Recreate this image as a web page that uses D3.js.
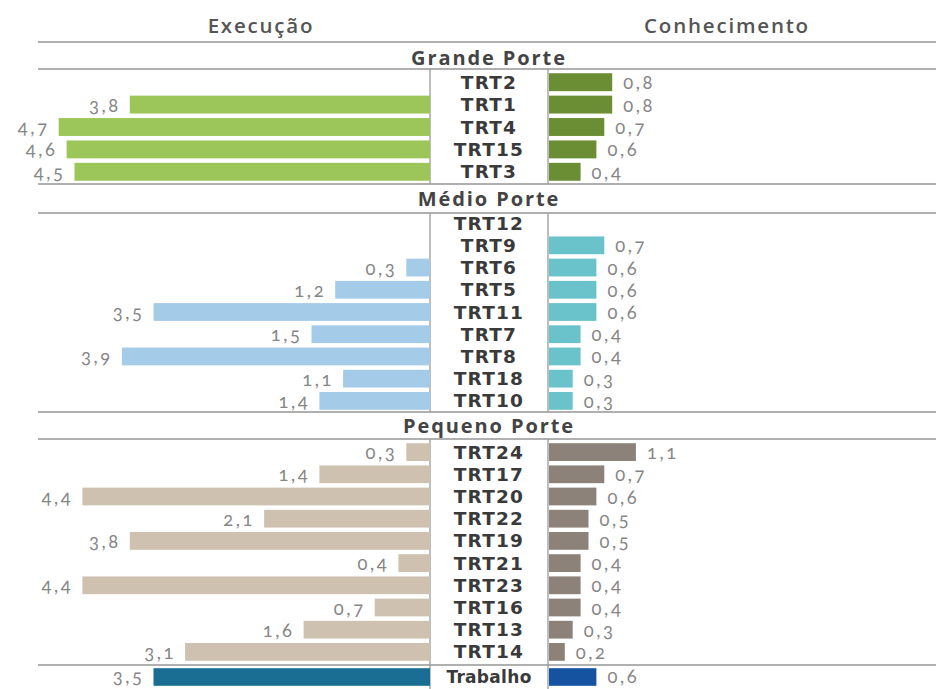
<!DOCTYPE html>
<html>
<head>
<meta charset="utf-8">
<script src="https://cdn.jsdelivr.net/npm/d3@7"></script>
<style>
  html, body { margin: 0; padding: 0; background: #fff; }
  svg { display: block; }
  text { font-family: "Open Sans", "DejaVu Sans", sans-serif; }
  .num { font-family: Lato, "Open Sans", sans-serif; font-variant-numeric: oldstyle-nums; font-feature-settings: "onum" 1; }
  .lab { font-family: "DejaVu Sans", sans-serif; }
</style>
</head>
<body>
<svg id="chart" width="936" height="689"></svg>
<script>
// Column headers
const columnTitles = ["Execução", "Conhecimento"];

// Grande Porte
const grandeLabels = ["TRT2", "TRT1", "TRT4", "TRT15", "TRT3"];
const grandeExecucao = [null, 3.8, 4.7, 4.6, 4.5];
const grandeConhecimento = [0.8, 0.8, 0.7, 0.6, 0.4];

// Médio Porte
const medioLabels = ["TRT12", "TRT9", "TRT6", "TRT5", "TRT11", "TRT7", "TRT8", "TRT18", "TRT10"];
const medioExecucao = [null, null, 0.3, 1.2, 3.5, 1.5, 3.9, 1.1, 1.4];
const medioConhecimento = [null, 0.7, 0.6, 0.6, 0.6, 0.4, 0.4, 0.3, 0.3];

// Pequeno Porte
const pequenoLabels = ["TRT24", "TRT17", "TRT20", "TRT22", "TRT19", "TRT21", "TRT23", "TRT16", "TRT13", "TRT14"];
const pequenoExecucao = [0.3, 1.4, 4.4, 2.1, 3.8, 0.4, 4.4, 0.7, 1.6, 3.1];
const pequenoConhecimento = [1.1, 0.7, 0.6, 0.5, 0.5, 0.4, 0.4, 0.4, 0.3, 0.2];

// Justiça do Trabalho (total)
const totalLabels = ["Trabalho"];
const totalExecucao = [3.5];
const totalConhecimento = [0.6];

const sectionTitles = ["Grande Porte", "Médio Porte", "Pequeno Porte"];

const svg = d3.select("#chart");
const W = 936;

// layout
const axisL = 430, axisR = 548;
const labelCenter = 489;
const pxPerUnit = 79;
const xLeft = d3.scaleLinear().domain([0, 5]).range([axisL, axisL - 5 * pxPerUnit]);
const xRight = d3.scaleLinear().domain([0, 5]).range([axisR + 1, axisR + 1 + 5 * pxPerUnit]);
const fmt = v => d3.format(".1f")(v).replace(".", ",");

const sections = [
  { title: sectionTitles[0], titleY: 57, top: 69, bottom: 184, range: [71, 183],
    labels: grandeLabels, exec: grandeExecucao, conh: grandeConhecimento,
    colL: "#9cc65a", colR: "#6b8e35" },
  { title: sectionTitles[1], titleY: 198, top: 213, bottom: 412, range: [212, 412],
    labels: medioLabels, exec: medioExecucao, conh: medioConhecimento,
    colL: "#a4cce9", colR: "#6ac2ca" },
  { title: sectionTitles[2], titleY: 425, top: 439, bottom: 665, range: [441, 663],
    labels: pequenoLabels, exec: pequenoExecucao, conh: pequenoConhecimento,
    colL: "#cfc1b0", colR: "#8c8279" },
  { title: null, top: 665, bottom: 689, range: [666, 688],
    labels: totalLabels, exec: totalExecucao, conh: totalConhecimento,
    colL: "#1a6e94", colR: "#1552a0", total: true }
];

// column headers
[[261, columnTitles[0]], [727, columnTitles[1]]].forEach(([x, t]) => {
  svg.append("text").attr("x", x).attr("y", 25).attr("text-anchor", "middle")
    .attr("dominant-baseline", "central").attr("font-size", 20.5).attr("font-weight", 600)
    .attr("fill", "#555").attr("letter-spacing", 1.8).text(t);
});

// horizontal rules
const rules = [42, 69, 184, 213, 412, 439, 665];
svg.selectAll("line.rule").data(rules).join("line").attr("class", "rule")
  .attr("x1", 38).attr("x2", W).attr("y1", d => d).attr("y2", d => d)
  .attr("stroke", "#b0b0b0").attr("stroke-width", 2);

sections.forEach(s => {
  const y = d3.scaleBand().domain(s.labels).range(s.range).paddingInner(0.2).paddingOuter(0.1);
  const g = svg.append("g");
  const cy = d => y(d.lab) + y.bandwidth() / 2 - (s.total ? 1 : 0);

  if (s.title) {
    g.append("text").attr("x", labelCenter).attr("y", s.titleY).attr("text-anchor", "middle")
      .attr("dominant-baseline", "central").attr("font-size", 20).attr("font-weight", 700)
      .attr("fill", "#444").attr("letter-spacing", 1.9).text(s.title);
  }

  // column separators
  [axisL, axisR].forEach(x => {
    g.append("line").attr("x1", x).attr("x2", x).attr("y1", s.top).attr("y2", s.bottom)
      .attr("stroke", "#9a9a9a").attr("stroke-width", 1.3);
  });

  const rows = s.labels.map((lab, i) => ({ lab, e: s.exec[i], c: s.conh[i] }));

  // execução bars (left)
  g.selectAll("rect.e").data(rows.filter(d => d.e != null)).join("rect").attr("class", "e")
    .attr("x", d => xLeft(d.e)).attr("width", d => xLeft(0) - xLeft(d.e))
    .attr("y", d => y(d.lab)).attr("height", y.bandwidth()).attr("fill", s.colL);
  g.selectAll("text.e").data(rows.filter(d => d.e != null)).join("text").attr("class", "e num")
    .attr("x", d => xLeft(d.e) - 9).attr("y", cy)
    .attr("text-anchor", "end").attr("dominant-baseline", "central")
    .attr("font-size", 18.4).attr("fill", "#868686").attr("letter-spacing", 2.6).text(d => fmt(d.e));

  // conhecimento bars (right)
  g.selectAll("rect.c").data(rows.filter(d => d.c != null)).join("rect").attr("class", "c")
    .attr("x", xRight(0)).attr("width", d => xRight(d.c) - xRight(0))
    .attr("y", d => y(d.lab)).attr("height", y.bandwidth()).attr("fill", s.colR);
  g.selectAll("text.c").data(rows.filter(d => d.c != null)).join("text").attr("class", "c num")
    .attr("x", d => xRight(d.c) + 11).attr("y", cy)
    .attr("text-anchor", "start").attr("dominant-baseline", "central")
    .attr("font-size", 18.4).attr("fill", "#868686").attr("letter-spacing", 2.6).text(d => fmt(d.c));

  // row labels
  g.selectAll("text.lab").data(rows).join("text").attr("class", "lab")
    .attr("x", labelCenter).attr("y", d => cy(d) + (s.total ? 1 : 0))
    .attr("text-anchor", "middle").attr("dominant-baseline", "central")
    .attr("font-size", s.total ? 17 : 18.5).attr("font-weight", 700).attr("fill", "#3a3a3a")
    .attr("letter-spacing", s.total ? 0.3 : 1.2).text(d => d.lab);
});
</script>
</body>
</html>
